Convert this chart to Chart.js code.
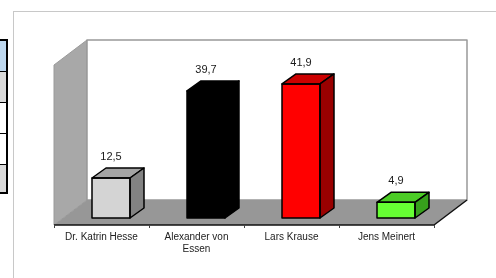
<!DOCTYPE html>
<html>
<head>
<meta charset="utf-8">
<script src="https://cdn.jsdelivr.net/npm/chart.js@4.4.0/dist/chart.umd.min.js"></script>
<style>
  html, body { margin: 0; padding: 0; background: #fff; }
  #wrap { position: relative; width: 496px; height: 278px; overflow: hidden; }
  #frame { position: absolute; left: 13px; top: 11px; width: 500px; height: 300px;
           border-top: 1px solid #c8c8c8; border-left: 1px solid #c8c8c8; }
  #side { position: absolute; left: -4px; top: 39px; width: 8px; border: 2px solid #000; }
  #side div { height: 30px; border-bottom: 1px solid #000; }
  #side div:last-child { border-bottom: none; height: 27px; }
  canvas { position: absolute; left: 0; top: 0; }
</style>
</head>
<body>
<div id="wrap">
  <div id="frame"></div>
  <div id="side">
    <div style="background:#bdd7ee"></div>
    <div style="background:#d9d9d9"></div>
    <div style="background:#fff"></div>
    <div style="background:#fff"></div>
    <div style="background:#d9d9d9"></div>
  </div>
  <canvas id="myChart" width="496" height="278"></canvas>
</div>
<script>
// data
const categories = ['Dr. Katrin Hesse', ['Alexander von', 'Essen'], 'Lars Krause', 'Jens Meinert'];
const values = [12.5, 39.7, 41.9, 4.9];
const valueLabels = ['12,5', '39,7', '41,9', '4,9'];
const frontColors = ['#d4d4d4', '#000000', '#ff0000', '#66ff33'];
const topColors = ['#a4a4a4', '#000000', '#cc0000', '#4ccc26'];
const sideColors = ['#838383', '#000000', '#990000', '#37a01c'];

// 3d offsets (front wall / back wall / bar depth)
const FX = -9.5, FY = 7, BX = 23.5, BY = -18, DX = 14, DY = -10;

function poly(ctx, pts, fill, stroke, lw) {
    ctx.beginPath();
    ctx.moveTo(pts[0][0], pts[0][1]);
    for (let i = 1; i < pts.length; i++) ctx.lineTo(pts[i][0], pts[i][1]);
    ctx.closePath();
    if (fill) { ctx.fillStyle = fill; ctx.fill(); }
    if (stroke) { ctx.strokeStyle = stroke; ctx.lineWidth = lw || 1; ctx.lineJoin = 'round'; ctx.stroke(); }
}

const threeD = {
    id: 'threeD',
    beforeDatasetsDraw(chart) {
        const ctx = chart.ctx;
        const a = chart.chartArea;
        const xs = chart.scales.x;
        ctx.save();
        // left wall
        poly(ctx, [[a.left + FX, a.bottom + FY], [a.left + FX, a.top + FY], [a.left + BX, a.top + BY], [a.left + BX, a.bottom + BY]], '#a8a8a8', '#9a9a9a', 1);
        // back wall
        poly(ctx, [[a.left + BX, a.top + BY], [a.right + BX, a.top + BY], [a.right + BX, a.bottom + BY], [a.left + BX, a.bottom + BY]], '#ffffff', '#999999', 1.5);
        // floor
        poly(ctx, [[a.left + FX, a.bottom + FY], [a.right + FX, a.bottom + FY], [a.right + BX, a.bottom + BY], [a.left + BX, a.bottom + BY]], '#979797', null);
        ctx.strokeStyle = '#111';
        ctx.lineWidth = 1.5;
        ctx.beginPath();
        ctx.moveTo(a.left + FX, a.bottom + FY);
        ctx.lineTo(a.right + FX, a.bottom + FY);
        ctx.lineTo(a.right + BX, a.bottom + BY);
        ctx.stroke();
        // ticks between categories
        const step = (a.right - a.left) / categories.length;
        ctx.lineWidth = 1;
        ctx.strokeStyle = '#444';
        for (let i = 0; i <= categories.length; i++) {
            const x = Math.round(xs.getPixelForTick(0) - step / 2 + i * step + FX) + 0.5;
            ctx.beginPath();
            ctx.moveTo(x, a.bottom + FY);
            ctx.lineTo(x, a.bottom + FY + 3);
            ctx.stroke();
        }
        ctx.restore();
    },
    afterDatasetsDraw(chart) {
        const ctx = chart.ctx;
        const meta = chart.getDatasetMeta(0);
        ctx.save();
        meta.data.forEach((bar, i) => {
            const w = bar.width;
            const l = bar.x - w / 2, r = bar.x + w / 2;
            const t = bar.y, b = bar.base;
            poly(ctx, [[l, t], [l + DX, t + DY], [r + DX, t + DY], [r, t]], topColors[i], '#000', 1.5);
            poly(ctx, [[r, t], [r + DX, t + DY], [r + DX, b + DY], [r, b]], sideColors[i], '#000', 1.5);
            ctx.strokeStyle = '#000';
            ctx.lineWidth = 1.5;
            ctx.strokeRect(l, t, w, b - t);
            ctx.fillStyle = '#1a1a1a';
            ctx.font = '11px "Liberation Sans", Arial, sans-serif';
            ctx.textAlign = 'center';
            ctx.textBaseline = 'alphabetic';
            ctx.fillText(valueLabels[i], bar.x, t - 18);
        });
        ctx.restore();
    }
};

let myChart = document.getElementById('myChart').getContext('2d');
Chart.defaults.font.family = '"Liberation Sans", Arial, sans-serif';
Chart.defaults.color = '#222';

let barChart = new Chart(myChart, {
    type: 'bar',
    data: {
        labels: categories,
        datasets: [{
            data: values,
            backgroundColor: frontColors,
            borderWidth: 0,
            barPercentage: 0.4,
            categoryPercentage: 1
        }]
    },
    options: {
        responsive: false,
        animation: false,
        events: [],
        layout: {
            padding: { left: 63.5, right: 52.5, top: 58, bottom: 0 }
        },
        plugins: {
            legend: { display: false },
            tooltip: { enabled: false }
        },
        scales: {
            x: {
                grid: { display: false, drawTicks: false },
                border: { display: false },
                ticks: {
                    font: { size: 10 },
                    color: '#222',
                    labelOffset: FX,
                    padding: 13,
                    maxRotation: 0,
                    autoSkip: false
                },
                afterFit(s) { s.height = 60; }
            },
            y: {
                display: false,
                min: 0,
                max: 50
            }
        }
    },
    plugins: [threeD]
});
</script>
</body>
</html>
